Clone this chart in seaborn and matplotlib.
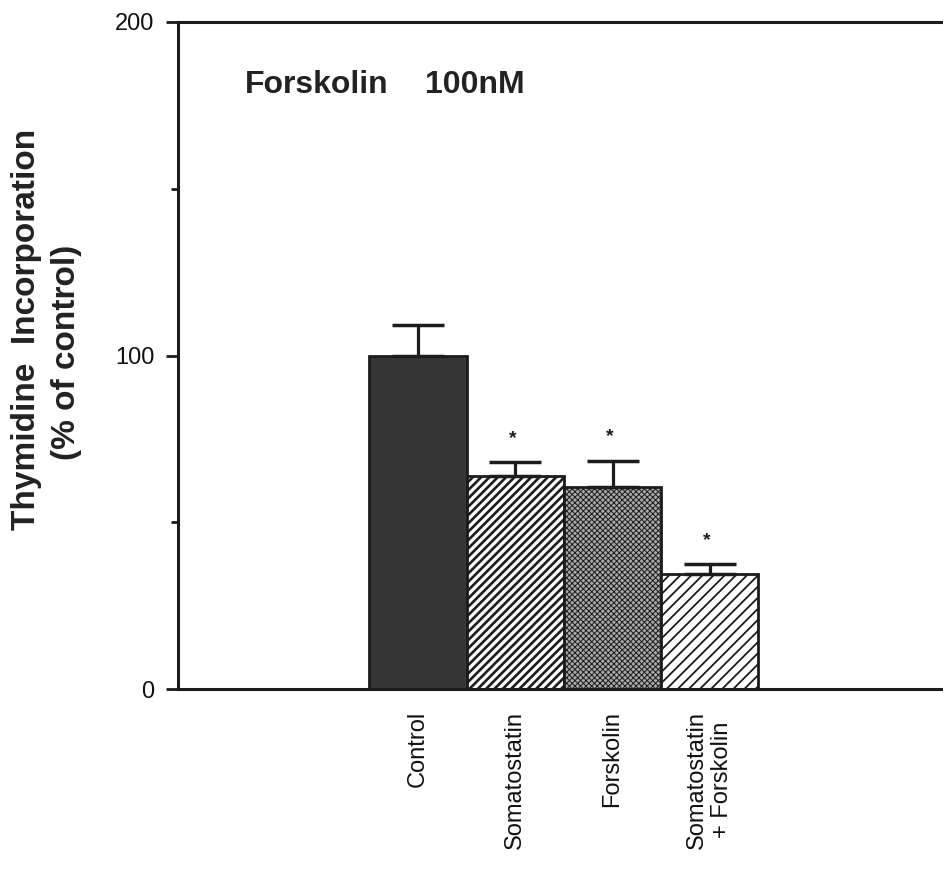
import numpy as np
import pandas as pd
import matplotlib
matplotlib.use("Agg")
import matplotlib.pyplot as plt
from matplotlib.ticker import FixedLocator
import seaborn as sns

# Thymidine incorporation, % of control (mean and SEM)
treatments = ["Control", "Somatostatin", "Forskolin", "Somatostatin\n+ Forskolin"]
incorporation = [100, 64, 60.5, 34.5]
sem = [9, 4, 8, 3]
significant = [False, True, True, True]

y_ticks = [0, 100, 200]
y_minor_ticks = [50, 150]

sns.set_style("ticks")
plt.rcParams["font.family"] = ["Liberation Sans", "DejaVu Sans"]
plt.rcParams["hatch.linewidth"] = 1.6

ink = "#1c1c1c"

fig = plt.figure(figsize=(9.43, 8.69), dpi=100)
ax = fig.add_axes([178 / 943, 1 - 689 / 869, 1 - 178 / 943, (689 - 22) / 869])

df = pd.DataFrame({"treatment": treatments, "value": incorporation})
sns.barplot(data=df, x="treatment", y="value", width=1.0, ax=ax,
            color="white", edgecolor=ink, linewidth=2.0,
            errorbar=None, saturation=1)

# fill style for each treatment bar
bar_styles = [
    dict(fc="#363636", hatch=None, hlw=1.0),
    dict(fc="white", hatch="////", hlw=1.9),
    dict(fc="#a9a9a9", hatch="xxxxxx", hlw=0.7),
    dict(fc="white", hatch="///", hlw=1.3),
]
for patch, st in zip(ax.patches, bar_styles):
    patch.set_facecolor(st["fc"])
    patch.set_edgecolor(ink)
    if st["hatch"]:
        patch.set_hatch(st["hatch"])
        if hasattr(patch, "set_hatch_linewidth"):
            patch.set_hatch_linewidth(st["hlw"])

# upward SEM bars
xpos = np.arange(len(treatments))
ax.errorbar(xpos, incorporation, yerr=[np.zeros(len(sem)), sem], fmt="none",
            ecolor=ink, elinewidth=2.3, capsize=18.5, capthick=2.5, zorder=5)

# significance markers
for i, (v, e, sig) in enumerate(zip(incorporation, sem, significant)):
    if sig:
        ax.text(i - 0.03, v + e + 4.5, "*", ha="center", va="bottom",
                fontsize=14, fontweight="bold", color=ink)

ax.set_xlim(-2.47, 5.40)
ax.set_ylim(0, 200)
ax.set_yticks(y_ticks)
ax.set_yticklabels([str(t) for t in y_ticks])
ax.yaxis.set_minor_locator(FixedLocator(y_minor_ticks))
ax.set_xlabel("")
ax.set_ylabel("")

for side in ["left", "top", "bottom"]:
    ax.spines[side].set_visible(True)
    ax.spines[side].set_linewidth(2.2)
    ax.spines[side].set_color(ink)
ax.spines["right"].set_visible(False)

ax.tick_params(axis="y", which="major", length=9, width=2.0, color=ink,
               labelsize=17, pad=8, labelcolor="#111111")
ax.tick_params(axis="y", which="minor", length=5, width=2.0, color=ink)
ax.tick_params(axis="x", length=0, pad=16, labelsize=17, labelcolor="#111111")
for lbl in ax.get_xticklabels():
    lbl.set_rotation(90)

title_y = 1 - 85 / 869
fig.text(245 / 943, title_y, "Forskolin", ha="left", va="center",
         fontsize=23, fontweight="bold", color="#222222")
fig.text(425 / 943, title_y, "100nM", ha="left", va="center",
         fontsize=23, fontweight="bold", color="#222222")
fig.text(27 / 943, 1 - 329 / 869, "Thymidine  Incorporation", rotation=90,
         ha="center", va="center", fontsize=24, fontweight="bold", color="#222222")
fig.text(66 / 943, 1 - 352 / 869, "(% of control)", rotation=90,
         ha="center", va="center", fontsize=24, fontweight="bold", color="#222222")

fig.savefig("out.png", dpi=100)
